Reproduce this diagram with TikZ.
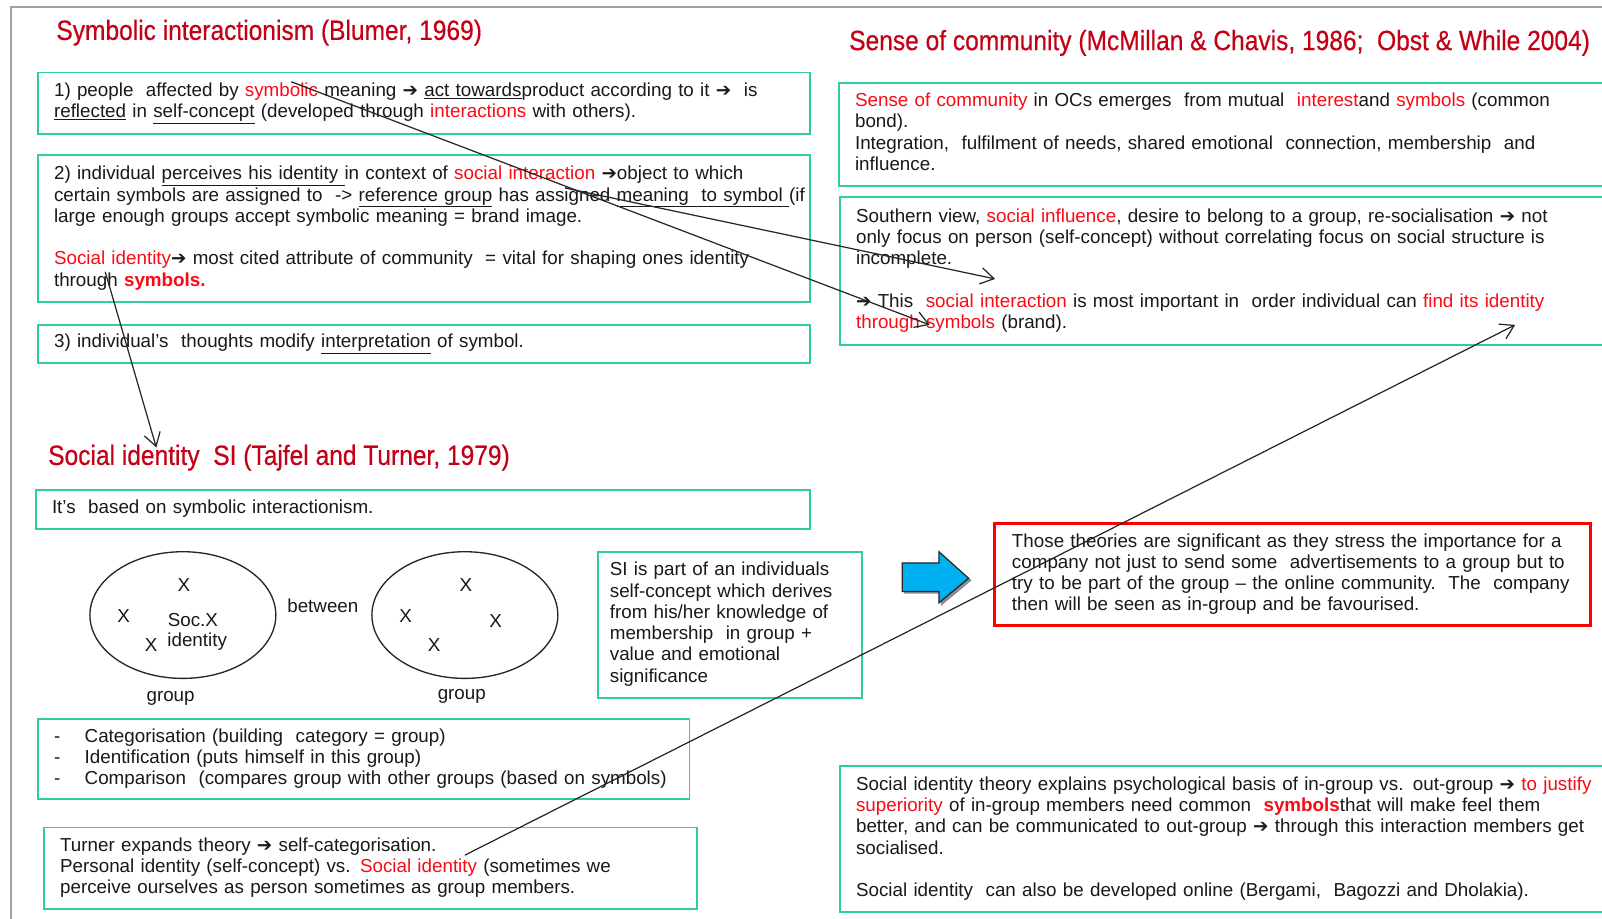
\documentclass[tikz,border=0pt]{standalone}
\usepackage{fontspec}
\setmainfont{Liberation Sans}
\newfontfamily\headfont[FakeStretch=0.88,FakeBold=0.4]{Liberation Sans}
\newfontfamily\symfont{DejaVu Sans}
\usetikzlibrary{arrows.meta,calc,shapes.geometric}
\definecolor{boxteal}{RGB}{48,206,152}
\definecolor{headred}{RGB}{196,0,22}
\definecolor{hired}{RGB}{250,10,20}
\definecolor{framegray}{RGB}{160,160,160}
\definecolor{arrowblue}{RGB}{0,176,240}
\newcommand\rarr{{\symfont\fontsize{18}{15}\selectfont ➔}}
\newcommand\hl[1]{\textcolor{hired}{#1}}
% fixed lines, never re-broken
\newcommand\rows[1]{\begin{tabular}{@{}l@{}}#1\end{tabular}}
\begin{document}
\begin{tikzpicture}[x=1pt,y=-1pt,
  txt/.style={font=\fontsize{18.4}{20.8}\selectfont, text=black!90},
  box/.style={txt, draw=boxteal, line width=1.8pt, anchor=north west,
    inner xsep=16pt, inner ysep=0pt, align=left},
  head/.style={font=\headfont\fontsize{27.3}{30}\selectfont, text=headred,
    anchor=west, inner sep=0pt},
  glyph/.style={txt, inner sep=0pt},
  ring/.style={draw=black!85, line width=1.3pt, ellipse, minimum width=182pt,
    minimum height=124pt, inner sep=0pt},
  conn/.style={draw=black!85, line width=1.2pt,
    -{Straight Barb[length=13pt,width=16pt,line width=1.2pt]}}]
\useasboundingbox (0,0) rectangle (1568,899);
\clip (0,0) rectangle (1568,899);
\fill[white] (0,0) rectangle (1568,899);

% page frame
\draw[framegray, line width=2pt] (10.6,899) -- (10.6,7.3) -- (1568,7.3);

% headings
\node[head] (t1) at (55,32) {Symbolic interactionism (Blumer, 1969)};
\node[head] (t2) at (47,448) {Social identity\ \ SI (Tajfel and Turner, 1979)};
\node[head] (t3) at (831,42) {Sense of community (McMillan \& Chavis, 1986;\ \ Obst \& While 2004)};

% symbolic interactionism
\node[box, minimum width=756pt, minimum height=60pt, text width=724pt] (b1) at (36,70)
  {\rows{1) people\ \ affected by \hl{symbolic} meaning \rarr{} \underline{act towards}product according to it \rarr\ \ is\\
   \underline{reflected} in \underline{self-concept} (developed through \hl{interactions} with others).}};
\node[box, minimum width=756pt, minimum height=144pt, text width=724pt] (b2) at (36,151)
  {\rows{2) individual \underline{perceives his identity\ }in context of \hl{social interaction} \rarr object to which\\
   certain symbols are assigned to\ \ -> \underline{reference group} has assigned \underline{meaning\ \ to symbol\ }(if\\
   large enough groups accept symbolic meaning = brand image.\\[20.8pt]
   \hl{Social identity}\rarr{} most cited attribute of community\ \ = vital for shaping ones identity\\
   through \hl{\bfseries symbols.}}};
\node[box, minimum width=756pt, minimum height=37pt, text width=724pt] (b3) at (36,317)
  {\rows{3) individual's\ \ thoughts modify \underline{interpretation} of symbol.}};

% social identity
\node[box, minimum width=758pt, minimum height=38pt, text width=726pt] (b4) at (34,479)
  {\rows{It's\ \ based on symbolic interactionism.}};
\node[box, inner xsep=12pt, minimum width=259pt, minimum height=143pt, text width=235pt] (si) at (584,539)
  {\rows{SI is part of an individuals\\ self-concept which derives\\ from his/her knowledge of\\
   membership\ \ in group +\\ value and emotional\\ significance}};
\node[box, minimum width=638pt, minimum height=78pt, text width=606pt] (list) at (36,703)
  {\rows{\makebox[30pt][l]{-}Categorisation (building\ \ category = group)\\
   \makebox[30pt][l]{-}Identification (puts himself in this group)\\
   \makebox[30pt][l]{-}Comparison\ \ (compares group with other groups (based on symbols)}};
\node[box, minimum width=639pt, minimum height=80pt, text width=607pt] (turner) at (42,809)
  {\rows{Turner expands theory \rarr{} self-categorisation.\\
   Personal identity (self-concept) vs. \hl{Social identity} (sometimes we\\
   perceive ourselves as person sometimes as group members.}};

% group diagram
\node[ring] (g1) at (179,602) {};
\node[ring] (g2) at (455,602) {};
\node[glyph] (g1a) at (180,573) {X};
\node[glyph] (g1b) at (121,603) {X};
\node[glyph, anchor=west] (g1s) at (164,607) {Soc.X};
\node[glyph] (g1c) at (148,631) {X};
\node[glyph] (g1i) at (193,628) {identity};
\node[glyph] (g2a) at (456,573) {X};
\node[glyph] (g2b) at (397,603) {X};
\node[glyph] (g2c) at (485,608) {X};
\node[glyph] (g2d) at (425,631) {X};
\node[glyph] (btw) at (316,593) {between};
\node[glyph] (grp1) at (167,684) {group};
\node[glyph] (grp2) at (452,682) {group};

% sense of community
\node[box, minimum width=780pt, minimum height=101pt, text width=748pt] (sc1) at (820,80)
  {\rows{\hl{Sense of community} in OCs emerges\ \ from mutual\ \ \hl{interest}and \hl{symbols} (common\\
   bond).\\
   Integration,\ \ fulfilment of needs, shared emotional\ \ connection, membership\ \ and\\
   influence.}};
\node[box, minimum width=780pt, minimum height=145pt, text width=748pt] (sc2) at (821,192)
  {\rows{Southern view, \hl{social influence}, desire to belong to a group, re-socialisation \rarr{} not\\
   only focus on person (self-concept) without correlating focus on social structure is\\
   incomplete.\\[20.8pt]
   \rarr{} This\ \ \hl{social interaction} is most important in\ \ order individual can \hl{find its identity}\\
   \hl{through symbols} (brand).}};
\node[box, minimum width=780pt, minimum height=143pt, text width=748pt] (sit) at (821,749)
  {\rows{Social identity theory explains psychological basis of in-group vs. out-group \rarr{} \hl{to justify}\\
   \hl{superiority} of in-group members need common\ \ \hl{\bfseries symbols}that will make feel them\\
   better, and can be communicated to out-group \rarr{} through this interaction members get\\
   socialised.\\[20.8pt]
   Social identity\ \ can also be developed online (Bergami,\ \ Bagozzi and Dholakia).}};

% conclusion
\node[box, draw=red, line width=3pt, inner xsep=17pt, minimum width=583pt, minimum height=100pt,
  text width=549pt] (concl) at (972,511)
  {\rows{Those theories are significant as they stress the importance for a\\
   company not just to send some\ \ advertisements to a group but to\\
   try to be part of the group -- the online community.\ \ The\ \ company\\
   then will be seen as in-group and be favourised.}};

% block arrow
\fill[black!45] (885,554) -- (921,554) -- (921,542) -- (951,568) -- (921,593) -- (921,581) -- (885,581) -- cycle;
\draw[fill=arrowblue, draw=black!85, line width=1.2pt]
  (883,551) -- (919,551) -- (919,540) -- (948,566) -- (919,590) -- (919,579) -- (883,579) -- cycle;

% connectors
\coordinate (aS) at ($(b1.north west)+(249,10)$);
\coordinate (aE) at ($(sc2.north west)+(89,126)$);
\coordinate (bS) at ($(b2.north west)+(517,33)$);
\coordinate (bE) at ($(sc2.north west)+(153,81)$);
\coordinate (cS) at ($(b2.north west)+(67,115)$);
\coordinate (cE) at ($(t2.west)+(106,-10)$);
\coordinate (dS) at ($(turner.north west)+(413,28)$);
\coordinate (dE) at ($(sc2.north west)+(662,126)$);
\draw[conn] (aS) -- (aE);
\draw[conn] (bS) -- (bE);
\draw[conn] (cS) -- (cE);
\draw[conn] (dS) -- (dE);
\end{tikzpicture}
\end{document}
